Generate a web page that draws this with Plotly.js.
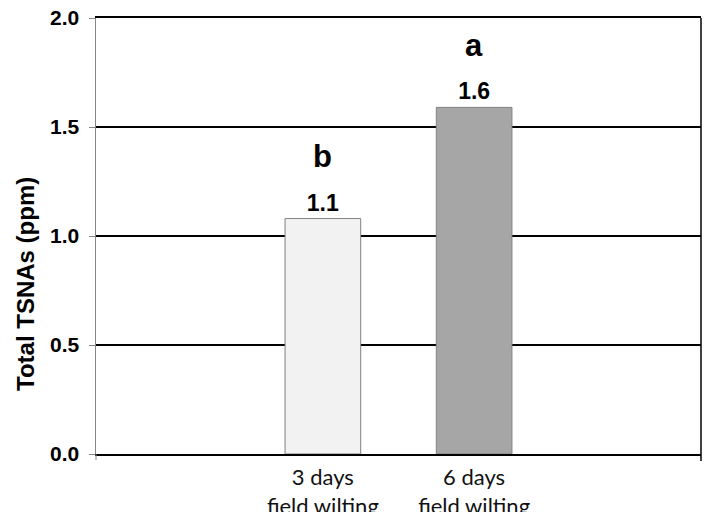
<!DOCTYPE html>
<html>
<head>
<meta charset="utf-8">
<script src="https://cdn.plot.ly/plotly-3.0.1.min.js"></script>
<style>html,body{margin:0;padding:0;background:#fff;}#chart{width:704px;height:512px;}</style>
</head>
<body>
<div id="chart"></div>
<script>
// Data
const categories = ["3 days<br>field wilting", "6 days<br>field wilting"];
const values = [1.08, 1.59];
const letters = ["b", "a"];
const barColors = ["#f2f2f2", "#a6a6a6"];
const yTicks = [0, 0.5, 1.0, 1.5, 2.0];
const yTitle = "Total TSNAs (ppm)";

const padLeft = " ", padRight = "  ";

const trace = {
  type: "bar",
  x: categories,
  y: values,
  width: 0.5,
  marker: { color: barColors, line: { color: "#808080", width: 1 } },
  texttemplate: "%{y:.1f}",
  textposition: "outside",
  cliponaxis: false,
  textfont: { family: "Liberation Sans, Arial, sans-serif", size: 23, color: "#000", weight: 700 },
  hoverinfo: "skip"
};

const annotations = categories.map((c, i) => ({
  x: c, y: values[i], xref: "x", yref: "y",
  text: letters[i], showarrow: false, yanchor: "middle", yshift: 62,
  font: { family: "Liberation Sans, Arial, sans-serif", size: 31, color: "#000", weight: 700 }
}));
annotations.push({
  xref: "paper", yref: "paper", x: 0, y: 0.39, xshift: -70,
  text: yTitle, textangle: -90, showarrow: false,
  xanchor: "center", yanchor: "middle",
  font: { family: "Liberation Sans, Arial, sans-serif", size: 24, color: "#000", weight: 700 }
});

const layout = {
  width: 704, height: 512,
  margin: { l: 96, r: 3, t: 18, b: 58 },
  paper_bgcolor: "#fff", plot_bgcolor: "#fff",
  showlegend: false,
  xaxis: {
    type: "category",
    categoryorder: "array",
    categoryarray: [padLeft].concat(categories, [padRight]),
    range: [-0.5, 3.5],
    showline: true, linecolor: "#000", linewidth: 2, mirror: true,
    ticks: "", showgrid: false, zeroline: false,
    ticklabelstandoff: 3,
    tickfont: { family: "Lato, Open Sans, sans-serif", size: 22, color: "#111" }
  },
  yaxis: {
    range: [0, 2],
    tickvals: yTicks,
    tickformat: ".1f",
    showgrid: true, gridcolor: "#000", gridwidth: 1.5,
    showline: true, linecolor: "#868686", linewidth: 1.5,
    ticks: "outside", ticklen: 6, tickcolor: "#868686", tickwidth: 1,
    zeroline: false,
    ticklabelstandoff: 5,
    tickfont: { family: "Liberation Sans, Arial, sans-serif", size: 21, color: "#000", weight: 700 }
  },
  shapes: [
    { type: "line", xref: "paper", yref: "paper", x0: 1, x1: 1, y0: -0.016, y1: 1, line: { color: "#000", width: 1.5 } },
    { type: "line", xref: "paper", yref: "paper", x0: 0, x1: 0, y0: -0.014, y1: 0, line: { color: "#868686", width: 1 } }
  ],
  annotations: annotations
};

Plotly.newPlot("chart", [trace], layout, { displayModeBar: false, staticPlot: true });
</script>
</body>
</html>
